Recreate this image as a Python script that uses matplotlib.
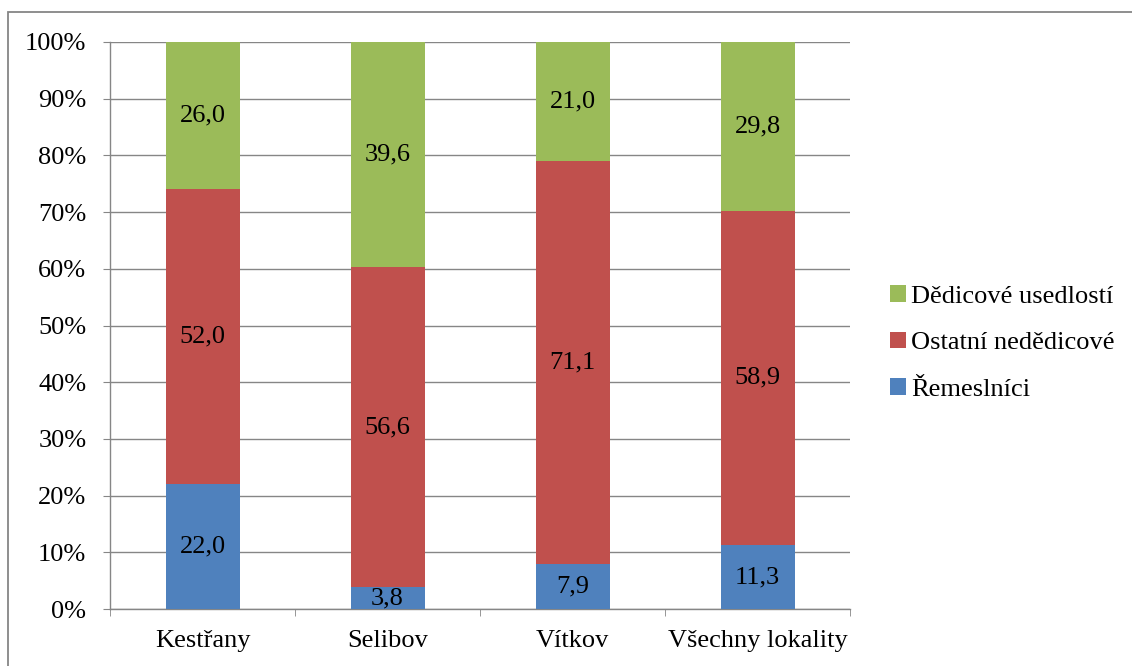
import matplotlib
matplotlib.use("Agg")
import matplotlib.pyplot as plt
from matplotlib.patches import Rectangle
import numpy as np

categories = ["Kestřany", "Selibov", "Vítkov", "Všechny lokality"]
remeslnici = [22.0, 3.8, 7.9, 11.3]
ostatni = [52.0, 56.6, 71.1, 58.9]
dedicove = [26.0, 39.6, 21.0, 29.8]
series_names = ["Řemeslníci", "Ostatní nedědicové", "Dědicové usedlostí"]
colors = ["#4F81BD", "#C0504D", "#9BBB59"]
y_ticks = [0, 10, 20, 30, 40, 50, 60, 70, 80, 90, 100]

plt.rcParams['font.family'] = ['Liberation Serif', 'DejaVu Serif']
FS = 19
W, H = 1132, 666
fig = plt.figure(figsize=(W / 100, H / 100), dpi=100)

# outer frame (partly cropped)
fig.patches.append(Rectangle((8 / W, -0.2), 1.5, (H - 12) / H + 0.2,
                             transform=fig.transFigure, fill=False,
                             edgecolor="#868686", lw=1.3, clip_on=False))

ax = fig.add_axes([110 / W, (H - 609) / H, 740 / W, 567 / H])
x = np.arange(len(categories))
grey = "#868686"

series = [remeslnici, ostatni, dedicove]
bottom = np.zeros(len(categories))
for vals, name, col in zip(series, series_names, colors):
    ax.bar(x, vals, width=0.4, bottom=bottom, color=col, label=name, zorder=3)
    for xi, v, bt in zip(x, vals, bottom):
        ax.text(xi, bt + v / 2, f"{v:.1f}".replace(".", ","), ha="center", va="center",
                fontsize=FS, zorder=4)
    bottom = bottom + np.array(vals)

ax.set_xlim(-0.5, len(categories) - 0.5)
ax.set_ylim(0, 100)
ax.set_yticks(y_ticks)
ax.set_yticklabels([f"{t}%" for t in y_ticks], fontsize=FS)
ax.yaxis.grid(True, color=grey, lw=1.0, zorder=0)
ax.tick_params(axis="y", length=5, color=grey, pad=12)

ax.set_xticks(x)
ax.set_xticklabels(categories, fontsize=FS)
ax.set_xticks(np.arange(-0.5, len(categories)), minor=True)
ax.tick_params(axis="x", which="major", length=0, pad=15)
ax.tick_params(axis="x", which="minor", length=5, color=grey)

for s in ["top", "right"]:
    ax.spines[s].set_visible(False)
for s in ["left", "bottom"]:
    ax.spines[s].set_color(grey)
    ax.spines[s].set_linewidth(1.0)

handles, labels = ax.get_legend_handles_labels()
ax.legend(handles[::-1], labels[::-1], loc="center left",
          bbox_to_anchor=(890 / W, (H - 343) / H), bbox_transform=fig.transFigure,
          frameon=False, fontsize=FS, handlelength=0.6, handleheight=0.6,
          handletextpad=0.2, labelspacing=0.9, borderaxespad=0, borderpad=0)

fig.savefig("out.png", dpi=100)
